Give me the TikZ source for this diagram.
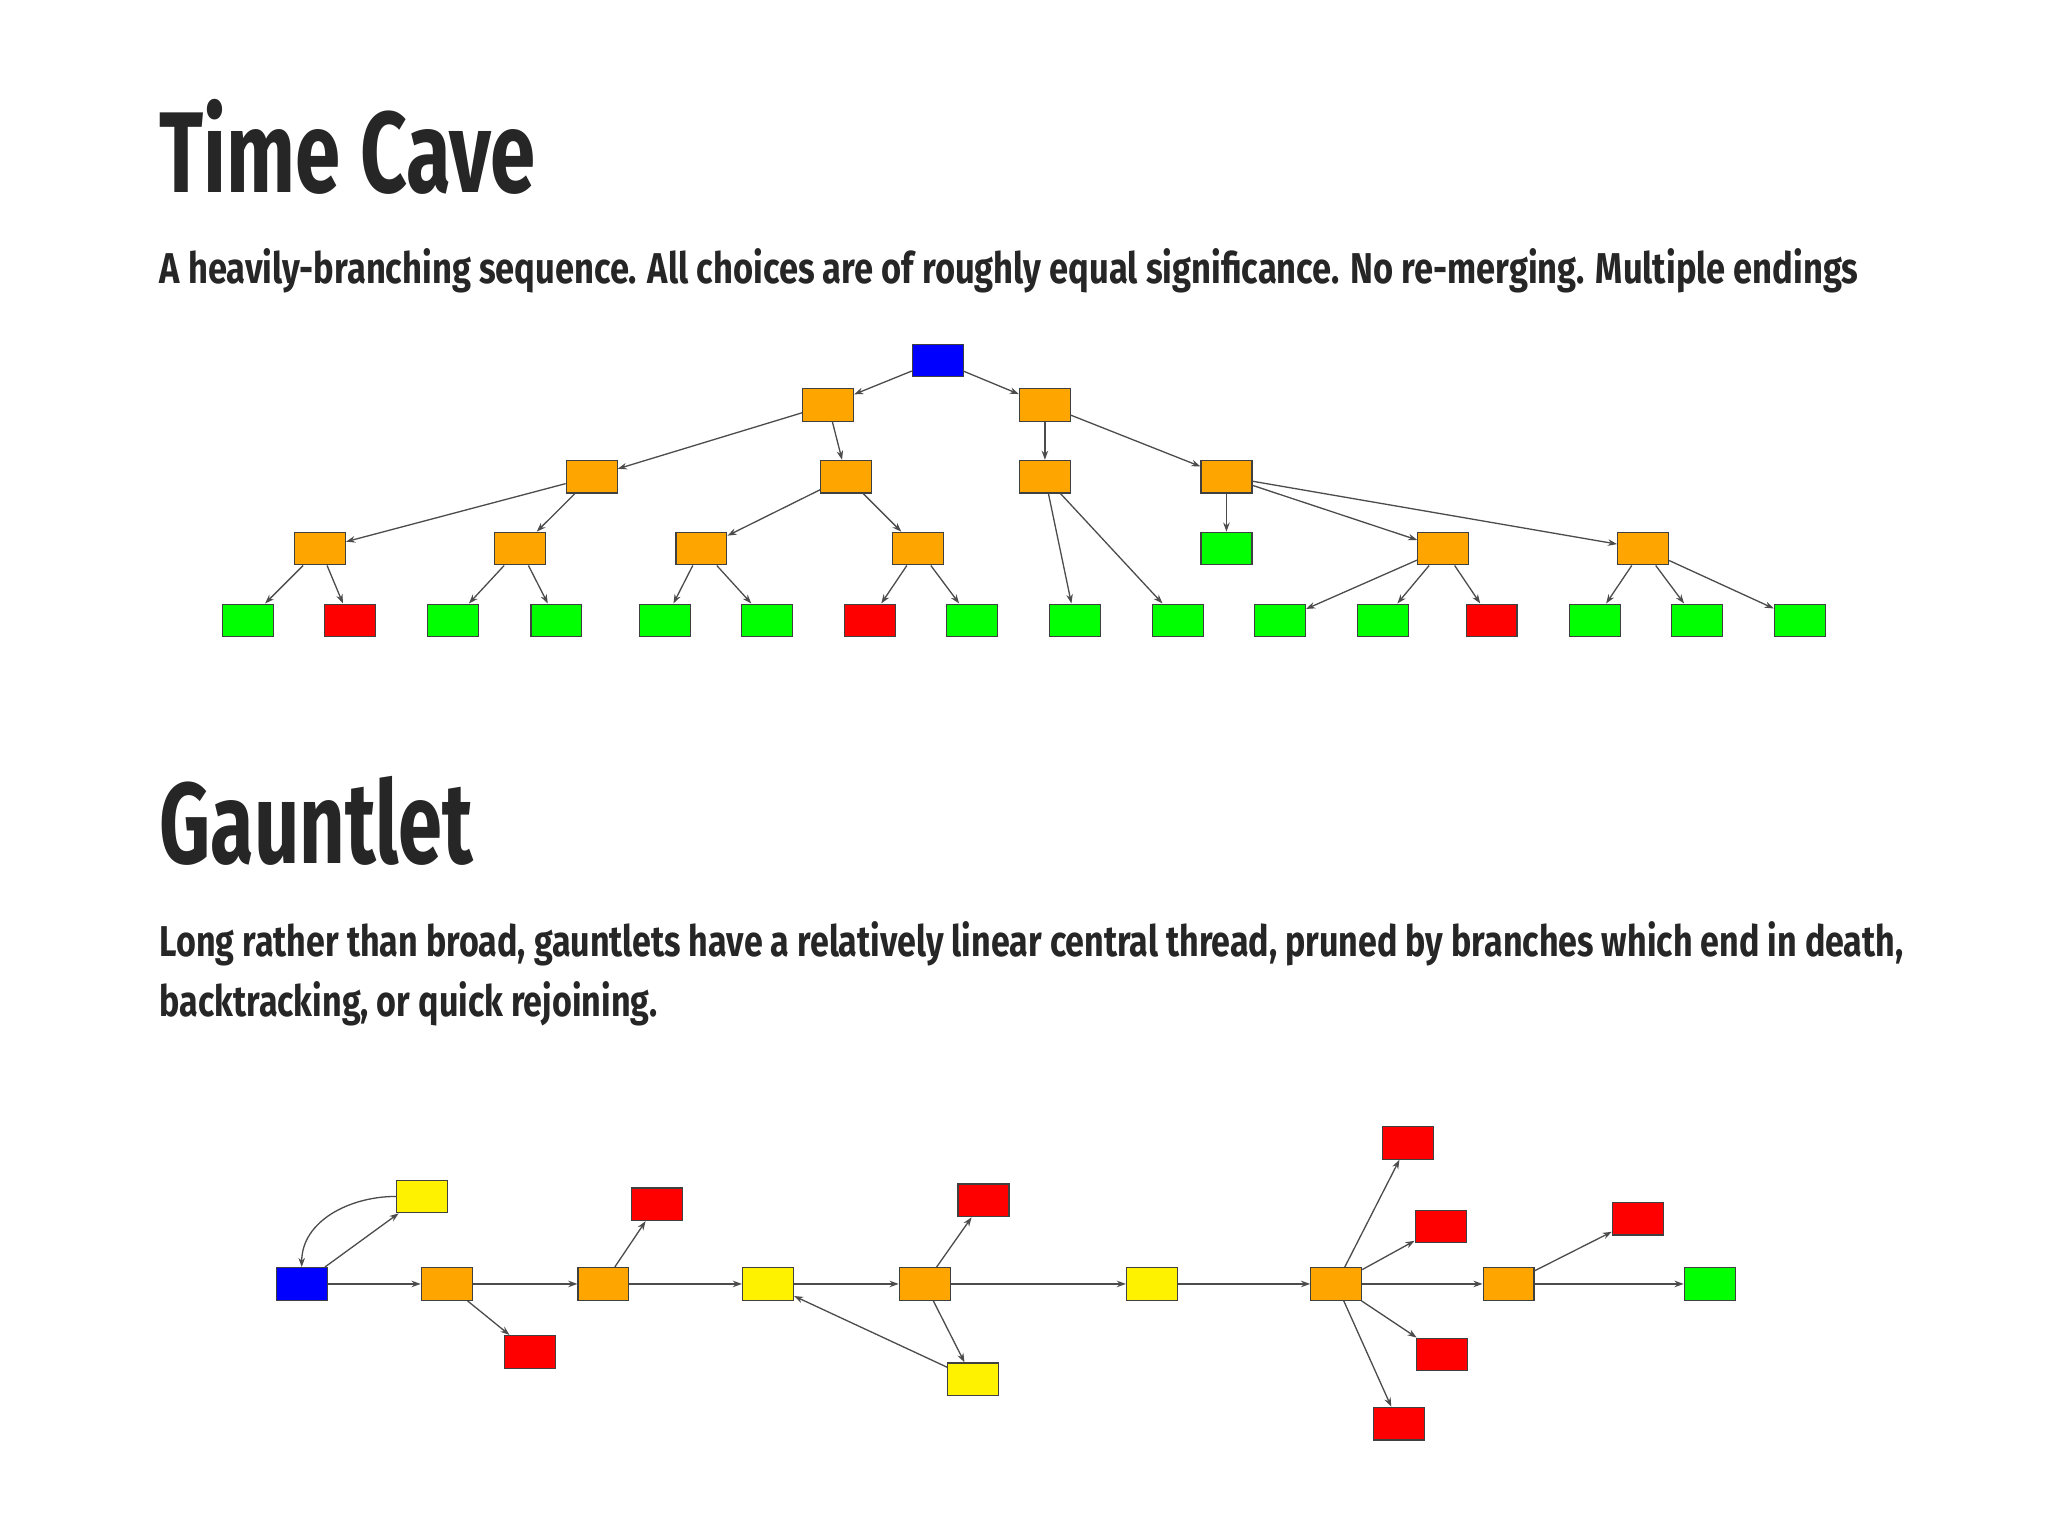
\documentclass[tikz,border=0pt]{standalone}
\usepackage{fontspec}
\setmainfont{Fira Sans}
\usetikzlibrary{arrows.meta}
\definecolor{org}{HTML}{FFA500}
\begin{document}
\begin{tikzpicture}[x=1pt,y=-1pt,
 bx/.style={draw=black!75,line width=0.9pt,minimum width=39pt,minimum height=25pt,inner sep=0pt},
 O/.style={bx,fill=org},B/.style={bx,fill=blue},G/.style={bx,fill=green},
 R/.style={bx,fill=red},Y/.style={bx,fill=yellow},
 e/.style={draw=black!70,line width=1pt,-{Stealth[length=7pt,width=5pt]}},
 ttl/.style={anchor=base west,inner sep=0pt,text=black!85,font=\fontsize{88}{90}\selectfont\bfseries},
 sub/.style={anchor=base west,inner sep=0pt,text=black!85,font=\fontsize{33}{46}\selectfont\bfseries,align=left}]
\useasboundingbox[fill=white] (0,0) rectangle (1568,1176);
\node[ttl] (t1) at (122,147) {\scalebox{0.71}[1]{Time Cave}};
\node[sub] (s1) at (122,217) {\scalebox{0.8}[1]{A heavily-branching sequence. All choices are of roughly equal significance. No re-merging. Multiple endings}};
\node[ttl] (t2) at (122,661) {\scalebox{0.69}[1]{Gauntlet}};
\node[sub] (s2) at (122,732) {\scalebox{0.79}[1]{Long rather than broad, gauntlets have a relatively linear central thread, pruned by branches which end in death,}};
\node[sub] (s3) at (122,778) {\scalebox{0.79}[1]{backtracking, or quick rejoining.}};
% Time cave
\node[B] (r) at (718,276) {};
\node[O] (a) at (634,310) {}; \node[O] (b) at (800,310) {};
\node[O] (c) at (453,365) {}; \node[O] (d) at (648,365) {};
\node[O] (f) at (800,365) {}; \node[O] (g) at (939,365) {};
\node[O] (h) at (245,420) {}; \node[O] (i) at (398,420) {};
\node[O] (j) at (537,420) {}; \node[O] (k) at (703,420) {};
\node[G] (l) at (939,420) {}; \node[O] (m) at (1105,420) {};
\node[O] (n) at (1258,420) {};
\foreach \nm/\x/\s in {p1/190/G,p2/268/R,p3/347/G,p4/426/G,p5/509/G,p6/587/G,p7/666/R,p8/744/G,p9/823/G,p10/902/G,p11/980/G,p12/1059/G,p13/1142/R,p14/1221/G,p15/1299/G,p16/1378/G}
  \node[\s] (\nm) at (\x,475) {};
\foreach \u/\v in {r/a,r/b,a/c,a/d,b/f,b/g,c/h,c/i,d/j,d/k,f/p9,f/p10,g/l,g/m,g/n,h/p1,h/p2,i/p3,i/p4,j/p5,j/p6,k/p7,k/p8,m/p11,m/p12,m/p13,n/p14,n/p15,n/p16}
  \draw[e] (\u) -- (\v);
% Gauntlet
\node[B] (q0) at (231,983) {};
\node[Y] (q1) at (323,916) {};
\node[O] (q2) at (342,983) {};
\node[R] (q3) at (406,1035) {};
\node[O] (q4) at (462,983) {};
\node[R] (q5) at (503,922) {};
\node[Y] (q6) at (588,983) {};
\node[O] (q7) at (708,983) {};
\node[R] (q8) at (753,919) {};
\node[Y] (q9) at (745,1056) {};
\node[Y] (q10) at (882,983) {};
\node[O] (q11) at (1023,983) {};
\node[R] (q12) at (1078,875) {};
\node[R] (q13) at (1103,939) {};
\node[R] (q14) at (1104,1037) {};
\node[R] (q15) at (1071,1090) {};
\node[O] (q16) at (1155,983) {};
\node[R] (q17) at (1254,933) {};
\node[G] (q18) at (1309,983) {};
\draw[e] (q1.west) to[out=180,in=90] (q0.north);
\foreach \u/\v in {q0/q1,q0/q2,q2/q3,q2/q4,q4/q5,q4/q6,q6/q7,q7/q8,q7/q9,q9/q6,q7/q10,q10/q11,q11/q12,q11/q13,q11/q14,q11/q15,q11/q16,q16/q17,q16/q18}
  \draw[e] (\u) -- (\v);
\end{tikzpicture}
\end{document}
